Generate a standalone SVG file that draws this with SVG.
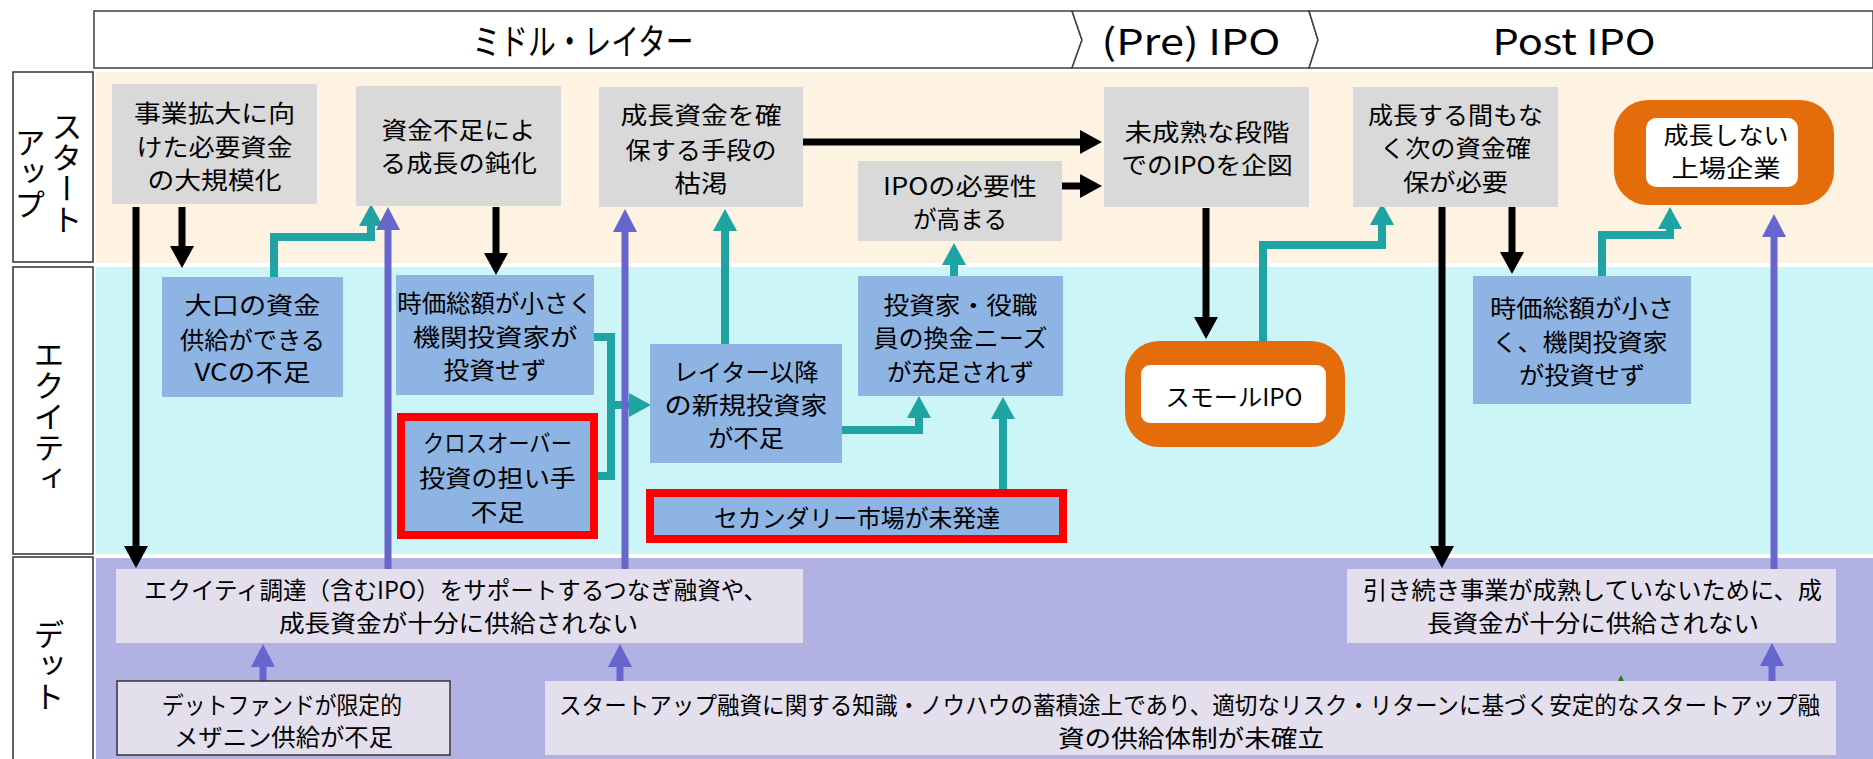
<svg xmlns="http://www.w3.org/2000/svg" width="1873" height="759" viewBox="0 0 1873 759">
<defs>
<style>
text { font-family: "Noto Sans CJK JP", "Noto Sans", sans-serif; fill: #000; }
.t { font-size: 24px; text-anchor: middle; }
.h { font-size: 36px; text-anchor: middle; }
.v { font-size: 31px; text-anchor: middle; writing-mode: vertical-rl; }
.hdr { fill: #fff; stroke: #404040; stroke-width: 1.5; }
.lane-lbl { fill: #fff; stroke: #333; stroke-width: 1.5; }
.gray { fill: #D9D9D9; }
.blue { fill: #8EB4E3; }
.pale { fill: #E4DFEC; }
.red { fill: #8EB4E3; stroke: #FF0000; stroke-width: 8; }
.orange { fill: #E46C0A; }
.white { fill: #fff; }
.blk { fill: none; stroke: #000; stroke-width: 7; marker-end: url(#hb); }
.tea { fill: none; stroke: #1FA3A3; stroke-width: 8; }
.tea-a { marker-end: url(#ht); }
.pur { fill: none; stroke: #6666CC; stroke-width: 7; marker-end: url(#hp); }
</style>
<marker id="hb" markerUnits="userSpaceOnUse" viewBox="0 0 22 24" refX="0" refY="12" markerWidth="22" markerHeight="24" orient="auto"><path d="M0,0 L22,12 L0,24 Z" fill="#000"/></marker>
<marker id="ht" markerUnits="userSpaceOnUse" viewBox="0 0 22 24" refX="0" refY="12" markerWidth="22" markerHeight="24" orient="auto"><path d="M0,0 L22,12 L0,24 Z" fill="#1FA3A3"/></marker>
<marker id="hp" markerUnits="userSpaceOnUse" viewBox="0 0 23 24" refX="0" refY="12" markerWidth="23" markerHeight="24" orient="auto"><path d="M0,0 L23,12 L0,24 Z" fill="#6666CC"/></marker>
</defs>

<rect x="0" y="0" width="1873" height="759" fill="#fff"/>

<g id="header">
<path class="hdr" d="M94,11 H1072 L1082,40 L1072,68 H94 Z"/>
<path class="hdr" d="M1072,11 H1309 L1318,40 L1309,68 H1072 L1082,40 Z"/>
<path class="hdr" d="M1309,11 H1873 V68 H1309 L1318,40 Z"/>
<text class="h" x="583" y="55" textLength="221" lengthAdjust="spacingAndGlyphs">ミドル・レイター</text>
<text class="h" x="1191" y="55" textLength="179" lengthAdjust="spacingAndGlyphs">(Pre) IPO</text>
<text class="h" x="1574" y="55" textLength="163" lengthAdjust="spacingAndGlyphs">Post IPO</text>
</g>

<g id="lanes">
<rect x="96" y="72" width="1777" height="191" fill="#FEF3E2"/>
<rect x="96" y="267" width="1777" height="287" fill="#CCF5F7"/>
<rect x="96" y="558" width="1777" height="201" fill="#B1B1E3"/>
<rect class="lane-lbl" x="13" y="72" width="80" height="190"/>
<rect class="lane-lbl" x="13" y="267" width="80" height="287"/>
<rect class="lane-lbl" x="13" y="557" width="80" height="210"/>
<text class="v" x="67" y="173">スタート</text>
<text class="v" x="30" y="173">アップ</text>
<text class="v" x="49" y="416">エクイティ</text>
<text class="v" x="49" y="665">デット</text>
</g>

<g id="connectors">
<path class="blk" d="M136,207 V546"/>
<path class="blk" d="M182,207 V246"/>
<path class="blk" d="M496,207 V253"/>
<path class="blk" d="M803,142 H1080"/>
<path class="blk" d="M1062,186 H1080"/>
<path class="blk" d="M1206,208 V317"/>
<path class="blk" d="M1442,207 V546"/>
<path class="blk" d="M1512,207 V252"/>

<path class="tea tea-a" d="M274,277 V237 H371 V226"/>
<path class="tea" d="M594,337 H611 V476 H598"/>
<path class="tea tea-a" d="M611,405 H629"/>
<path class="tea tea-a" d="M725,344 V231"/>
<path class="tea tea-a" d="M842,430 H919 V418"/>
<path class="tea tea-a" d="M954,276 V265"/>
<path class="tea tea-a" d="M1003,489 V419"/>
<path class="tea tea-a" d="M1263,341 V245 H1382 V225"/>
<path class="tea tea-a" d="M1602,276 V235 H1670 V229"/>

<path class="pur" d="M388,569 V230"/>
<path class="pur" d="M625,569 V232"/>
<path class="pur" d="M263,681 V667"/>
<path class="pur" d="M620,681 V667"/>
<path class="pur" d="M1772,681 V666"/>
<path class="pur" d="M1774,569 V237"/>

<polygon points="1617,683 1621,675 1625,683" fill="#2A7A2A"/>
</g>

<g id="n1">
<rect class="gray" x="112" y="84" width="205" height="120"/>
<text class="t"><tspan x="214.5" y="122" textLength="161" lengthAdjust="spacingAndGlyphs">事業拡大に向</tspan><tspan x="214.5" y="156" textLength="156" lengthAdjust="spacingAndGlyphs">けた必要資金</tspan><tspan x="214.5" y="189" textLength="134" lengthAdjust="spacingAndGlyphs">の大規模化</tspan></text>
</g>
<g id="n2">
<rect class="gray" x="356" y="86" width="205" height="120"/>
<text class="t"><tspan x="458.5" y="139" textLength="154" lengthAdjust="spacingAndGlyphs">資金不足によ</tspan><tspan x="458.5" y="172" textLength="157" lengthAdjust="spacingAndGlyphs">る成長の鈍化</tspan></text>
</g>
<g id="n3">
<rect class="gray" x="599" y="87" width="204" height="120"/>
<text class="t"><tspan x="701" y="124" textLength="161" lengthAdjust="spacingAndGlyphs">成長資金を確</tspan><tspan x="701" y="159" textLength="151" lengthAdjust="spacingAndGlyphs">保する手段の</tspan><tspan x="701" y="192" textLength="53" lengthAdjust="spacingAndGlyphs">枯渇</tspan></text>
</g>
<g id="n4">
<rect class="gray" x="858" y="161" width="204" height="80"/>
<text class="t"><tspan x="960" y="195" textLength="154" lengthAdjust="spacingAndGlyphs">IPOの必要性</tspan><tspan x="960" y="228" textLength="94" lengthAdjust="spacingAndGlyphs">が高まる</tspan></text>
</g>
<g id="n5">
<rect class="gray" x="1104" y="87" width="205" height="120"/>
<text class="t" transform="translate(1207,0) scale(0.85,1)"><tspan x="0" y="141" textLength="194" lengthAdjust="spacingAndGlyphs">未成熟な段階</tspan><tspan x="0" y="174" textLength="202" lengthAdjust="spacingAndGlyphs">でのIPOを企図</tspan></text>
</g>
<g id="n6">
<rect class="gray" x="1353" y="87" width="205" height="120"/>
<text class="t"><tspan x="1455.5" y="124" textLength="175" lengthAdjust="spacingAndGlyphs">成長する間もな</tspan><tspan x="1455.5" y="157" textLength="151" lengthAdjust="spacingAndGlyphs">く次の資金確</tspan><tspan x="1455.5" y="191" textLength="105" lengthAdjust="spacingAndGlyphs">保が必要</tspan></text>
</g>
<g id="n7">
<rect class="orange" x="1614" y="100" width="220" height="105" rx="34"/>
<rect class="white" x="1646" y="118" width="152" height="69" rx="10"/>
<text class="t"><tspan x="1726" y="144" textLength="125" lengthAdjust="spacingAndGlyphs">成長しない</tspan><tspan x="1726" y="177" textLength="109" lengthAdjust="spacingAndGlyphs">上場企業</tspan></text>
</g>

<g id="n8">
<rect class="blue" x="162" y="277" width="181" height="120"/>
<text class="t"><tspan x="252.5" y="314" textLength="136" lengthAdjust="spacingAndGlyphs">大口の資金</tspan><tspan x="252.5" y="349" textLength="145" lengthAdjust="spacingAndGlyphs">供給ができる</tspan><tspan x="252.5" y="381" textLength="116" lengthAdjust="spacingAndGlyphs">VCの不足</tspan></text>
</g>
<g id="n9">
<rect class="blue" x="396" y="275" width="198" height="120"/>
<text class="t" transform="translate(495,0) scale(0.91,1)"><tspan x="0" y="312" textLength="215" lengthAdjust="spacingAndGlyphs">時価総額が小さく</tspan><tspan x="0" y="346" textLength="181" lengthAdjust="spacingAndGlyphs">機関投資家が</tspan><tspan x="0" y="379" textLength="113" lengthAdjust="spacingAndGlyphs">投資せず</tspan></text>
</g>
<g id="n10">
<rect class="red" x="401" y="417" width="193" height="118"/>
<text class="t"><tspan x="497.5" y="452" textLength="149" lengthAdjust="spacingAndGlyphs">クロスオーバー</tspan><tspan x="497.5" y="487" textLength="157" lengthAdjust="spacingAndGlyphs">投資の担い手</tspan><tspan x="497.5" y="521" textLength="54" lengthAdjust="spacingAndGlyphs">不足</tspan></text>
</g>
<g id="n11">
<rect class="blue" x="650" y="344" width="192" height="119"/>
<text class="t"><tspan x="746" y="381" textLength="145" lengthAdjust="spacingAndGlyphs">レイター以降</tspan><tspan x="746" y="414" textLength="163" lengthAdjust="spacingAndGlyphs">の新規投資家</tspan><tspan x="746" y="447" textLength="76" lengthAdjust="spacingAndGlyphs">が不足</tspan></text>
</g>
<g id="n12">
<rect class="blue" x="858" y="276" width="205" height="120"/>
<text class="t"><tspan x="960.5" y="314" textLength="154" lengthAdjust="spacingAndGlyphs">投資家・役職</tspan><tspan x="960.5" y="347" textLength="174" lengthAdjust="spacingAndGlyphs">員の換金ニーズ</tspan><tspan x="960.5" y="381" textLength="147" lengthAdjust="spacingAndGlyphs">が充足されず</tspan></text>
</g>
<g id="n13">
<rect class="red" x="650" y="493" width="413" height="46"/>
<text class="t" x="857" y="527" textLength="286" lengthAdjust="spacingAndGlyphs">セカンダリー市場が未発達</text>
</g>
<g id="n14">
<rect class="orange" x="1125" y="341" width="220" height="106" rx="34"/>
<rect class="white" x="1141" y="365" width="185" height="58" rx="9"/>
<text class="t" x="1234" y="406" textLength="137" lengthAdjust="spacingAndGlyphs">スモールIPO</text>
</g>
<g id="n15">
<rect class="blue" x="1473" y="276" width="218" height="128"/>
<text class="t"><tspan x="1582" y="317" textLength="184" lengthAdjust="spacingAndGlyphs">時価総額が小さ</tspan><tspan x="1580" y="351" textLength="175" lengthAdjust="spacingAndGlyphs">く、機関投資家</tspan><tspan x="1582" y="384" textLength="126" lengthAdjust="spacingAndGlyphs">が投資せず</tspan></text>
</g>

<g id="n16">
<rect class="pale" x="116" y="569" width="687" height="74"/>
<text class="t" transform="translate(459.5,0) scale(0.87,1)"><tspan x="-4.6" y="599" textLength="716" lengthAdjust="spacingAndGlyphs">エクイティ調達（含むIPO）をサポートするつなぎ融資や、</tspan><tspan x="-1.1" y="632" textLength="413" lengthAdjust="spacingAndGlyphs">成長資金が十分に供給されない</tspan></text>
</g>
<g id="n17">
<rect class="pale" x="117" y="681" width="333" height="74" stroke="#333" stroke-width="1.5"/>
<text class="t"><tspan x="282" y="714" textLength="240" lengthAdjust="spacingAndGlyphs">デットファンドが限定的</tspan><tspan x="283.5" y="746" textLength="219" lengthAdjust="spacingAndGlyphs">メザニン供給が不足</tspan></text>
</g>
<g id="n18">
<rect class="pale" x="545" y="681" width="1291" height="74"/>
<text class="t" transform="translate(1190.5,0) scale(0.834,1)"><tspan x="-1.2" y="714" textLength="1512" lengthAdjust="spacingAndGlyphs">スタートアップ融資に関する知識・ノウハウの蓄積途上であり、適切なリスク・リターンに基づく安定的なスタートアップ融</tspan><tspan x="0.6" y="747" textLength="319" lengthAdjust="spacingAndGlyphs">資の供給体制が未確立</tspan></text>
</g>
<g id="n19">
<rect class="pale" x="1347" y="569" width="489" height="74"/>
<text class="t" transform="translate(1591.5,0) scale(0.895,1)"><tspan x="1.1" y="599" textLength="513" lengthAdjust="spacingAndGlyphs">引き続き事業が成熟していないために、成</tspan><tspan x="1.7" y="632" textLength="371" lengthAdjust="spacingAndGlyphs">長資金が十分に供給されない</tspan></text>
</g>
</svg>
